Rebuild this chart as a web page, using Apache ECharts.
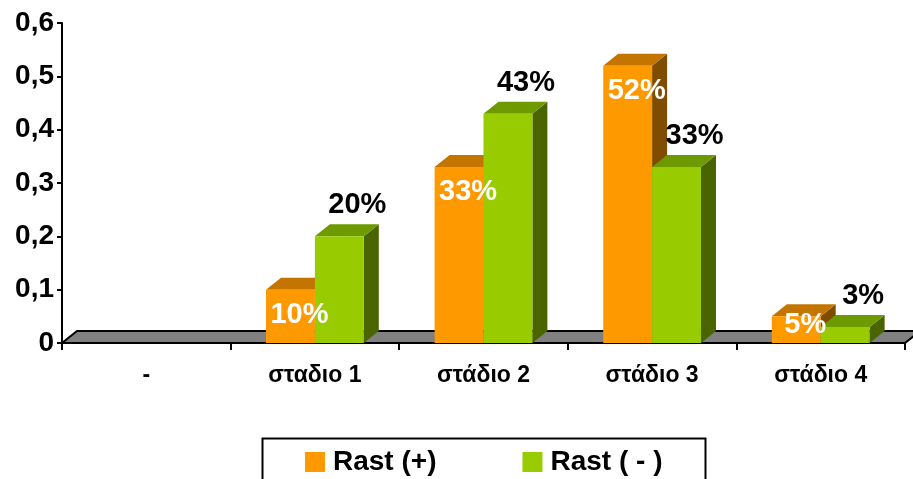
<!DOCTYPE html>
<html>
<head>
<meta charset="utf-8">
<script src="https://cdn.jsdelivr.net/npm/echarts@6/dist/echarts.min.js"></script>
<style>
html,body{margin:0;padding:0;background:#fff;}
#chart{width:913px;height:479px;}
</style>
</head>
<body>
<div id="chart"></div>
<script>
const categories = ['-', 'σταδιο 1', 'στάδιο 2', 'στάδιο 3', 'στάδιο 4'];
const rastPos = [0, 0.10, 0.33, 0.52, 0.05];
const rastNeg = [0, 0.20, 0.43, 0.33, 0.03];
const seriesNames = ['Rast (+)', 'Rast ( - )'];
const yTicks = [0, 0.1, 0.2, 0.3, 0.4, 0.5, 0.6];

const FONT = '"Liberation Sans", Arial, sans-serif';
const DX = 15, DY = 12;
const palettes = [
  {front: '#FF9900', top: '#C47500', side: '#7F4C00', label: '#FFFFFF'},
  {front: '#99CC00', top: '#6E9A00', side: '#4A6500', label: '#000000'}
];

function barGeom(k, api) {
  const i = api.value(0), v = api.value(1);
  const top = api.coord([i, v]);
  const base = api.coord([i, 0]);
  const catW = api.size([1, 0])[0];
  const w = catW * 0.29;
  const x0 = k === 0 ? top[0] - w : top[0];
  return {v: v, x0: x0, x1: x0 + w, w: w, ty: top[1], by: base[1]};
}

function makeBarRenderer(k) {
  return function (params, api) {
    const g = barGeom(k, api);
    if (!g.v) return {type: 'group', children: []};
    const p = palettes[k];
    return {type: 'group', children: [
      {type: 'polygon', shape: {points: [[g.x1, g.ty], [g.x1 + DX, g.ty - DY], [g.x1 + DX, g.by - DY], [g.x1, g.by]]},
       style: {fill: p.side}},
      {type: 'polygon', shape: {points: [[g.x0, g.ty], [g.x0 + DX, g.ty - DY], [g.x1 + DX, g.ty - DY], [g.x1, g.ty]]},
       style: {fill: p.top}},
      {type: 'rect', shape: {x: g.x0, y: g.ty, width: g.w, height: g.by - g.ty}, style: {fill: p.front}}
    ]};
  };
}

function makeLabelRenderer(k) {
  return function (params, api) {
    const g = barGeom(k, api);
    if (!g.v) return {type: 'group', children: []};
    const txt = Math.round(g.v * 100) + '%';
    let lx, ly;
    if (k === 0) { lx = g.x0 + g.w / 2 + 9; ly = Math.min(g.ty + 25, g.by - 18); }
    else { lx = g.x0 + g.w / 2 + 18; ly = g.ty - 31; }
    return {type: 'text', style: {text: txt, x: lx, y: ly, fill: palettes[k].label,
      font: 'bold 29px ' + FONT, textAlign: 'center', textVerticalAlign: 'middle'}};
  };
}

function renderFloor(params, api) {
  const cs = params.coordSys;
  const x = cs.x, yb = cs.y + cs.height, w = cs.width;
  return {type: 'polygon', shape: {points: [[x, yb], [x + DX, yb - DY], [x + w + DX, yb - DY], [x + w, yb]]},
    style: {fill: '#808080', stroke: '#000', lineWidth: 2}};
}

const chart = echarts.init(document.getElementById('chart'), null, {renderer: 'canvas'});
chart.setOption({
  animation: false,
  backgroundColor: '#fff',
  grid: {left: 62, right: 8, top: 23, bottom: 136, containLabel: false},
  xAxis: {
    type: 'category', data: categories,
    axisLine: {lineStyle: {color: '#000', width: 2}},
    axisTick: {show: true, length: 7, lineStyle: {color: '#000', width: 2}},
    axisLabel: {color: '#000', fontSize: 23, fontWeight: 'bold', fontFamily: FONT, margin: 21},
    splitLine: {show: false}
  },
  yAxis: {
    type: 'value', min: 0, max: 0.6, interval: 0.1,
    axisLine: {show: true, lineStyle: {color: '#000', width: 2}},
    axisTick: {show: true, length: 5, lineStyle: {color: '#000', width: 2}},
    axisLabel: {color: '#000', fontSize: 28, fontWeight: 'bold', fontFamily: FONT, margin: 8,
      formatter: function (v) {
        const t = yTicks.find(function (x) { return Math.abs(x - v) < 1e-9; });
        return t === 0 ? '0' : (t !== undefined ? t : v).toFixed(1).replace('.', ',');
      }},
    splitLine: {show: false}
  },
  legend: {
    data: seriesNames, left: 305, top: 448, padding: 0, icon: 'rect', itemWidth: 20, itemHeight: 20, itemGap: 86,
    textStyle: {color: '#000', fontSize: 28, fontWeight: 'bold', fontFamily: FONT, padding: [0, 0, 0, 3]}
  },
  graphic: [{type: 'rect', left: 260, top: 436, shape: {width: 443, height: 60},
    style: {fill: 'none', stroke: '#000', lineWidth: 2}}],
  series: [
    {type: 'custom', name: 'floor', z: 1, silent: true, data: [[0]], renderItem: renderFloor},
    {type: 'custom', name: seriesNames[0], z: 2, itemStyle: {color: palettes[0].front},
      data: rastPos.map(function (v, i) { return [i, v]; }), renderItem: makeBarRenderer(0)},
    {type: 'custom', name: seriesNames[1], z: 3, itemStyle: {color: palettes[1].front},
      data: rastNeg.map(function (v, i) { return [i, v]; }), renderItem: makeBarRenderer(1)},
    {type: 'custom', name: 'labelsPos', z: 5, silent: true,
      data: rastPos.map(function (v, i) { return [i, v]; }), renderItem: makeLabelRenderer(0)},
    {type: 'custom', name: 'labelsNeg', z: 5, silent: true,
      data: rastNeg.map(function (v, i) { return [i, v]; }), renderItem: makeLabelRenderer(1)}
  ]
});
</script>
</body>
</html>
